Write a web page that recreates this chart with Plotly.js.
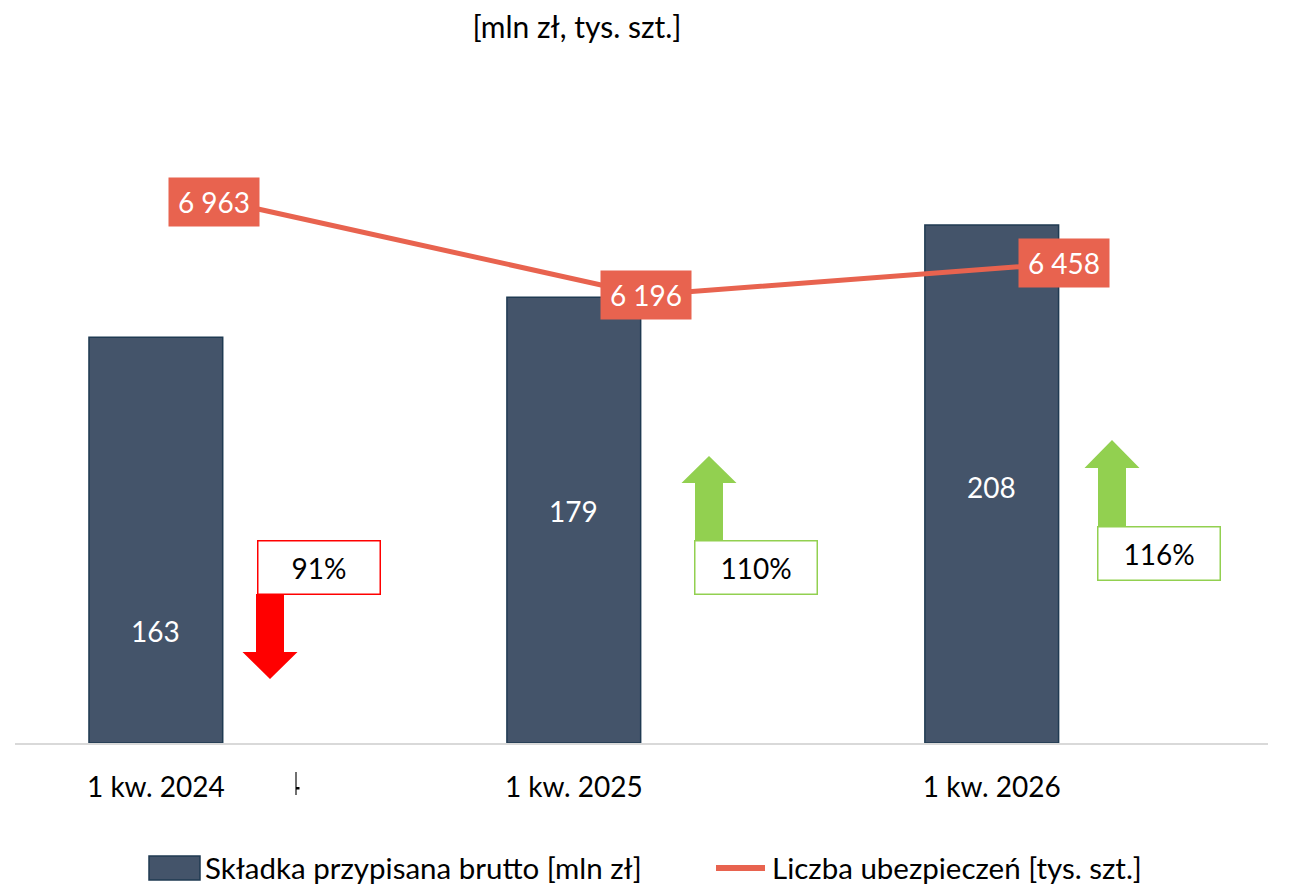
<!DOCTYPE html>
<html><head><meta charset="utf-8">
<script src="https://cdn.plot.ly/plotly-3.0.1.min.js"></script>
<style>html,body{margin:0;padding:0;background:#fff}#chart{width:1304px;height:886px}</style>
</head><body><div id="chart"></div>
<script>
// ---- data ----
const categories = ['1 kw. 2024', '1 kw. 2025', '1 kw. 2026'];
const premium = [163, 179, 208];             // Składka przypisana brutto [mln zł]
const policies = [6963, 6196, 6458];         // Liczba ubezpieczeń [tys. szt.]
const dynamics = ['91%', '110%', '116%'];
const dynamicsUp = [false, true, true];
const seriesNames = ['Składka przypisana brutto [mln zł]', 'Liczba ubezpieczeń [tys. szt.]'];
const unitTitle = '[mln zł, tys. szt.]';

// ---- styles ----
const FONT = 'Lato, "Open Sans", sans-serif';
const BAR = '#44546A', BAR_EDGE = '#1F3A52', LINE = '#E8634F';
const RED = '#FF0000', GREEN = '#92D050';
const W = 1304, H = 886, ML = 15, MR = 36, MT = 80, MB = 143;
const PW = W - ML - MR, PH = H - MT - MB;
const px = x => (x - ML) / PW;
const py = y => (H - MB - y) / PH;
const fmt = n => String(n).replace(/\B(?=(\d{3})+(?!\d))/g, ' ');

const traces = [
  { type: 'bar', x: categories, y: premium, name: seriesNames[0],
    marker: { color: BAR, line: { color: BAR_EDGE, width: 1.5 } },
    hoverinfo: 'x+y', showlegend: false },
  { type: 'scatter', mode: 'lines', x: categories, y: policies, name: seriesNames[1],
    xaxis: 'x2', yaxis: 'y2', line: { color: LINE, width: 5 }, showlegend: false }
];

const annotations = [];
const shapes = [];
// bar value labels
const barLabelShift = [-91, 9, -3];
premium.forEach((v, i) => annotations.push({
  xref: 'x', yref: 'y', x: categories[i], y: v / 2, yshift: barLabelShift[i],
  xanchor: 'center', yanchor: 'middle',
  text: String(v), showarrow: false, font: { family: FONT, size: 28, color: '#FFFFFF' }
}));
// line value labels
const lineLabelShift = [-14, 0, 0];
policies.forEach((v, i) => annotations.push({
  xref: 'x2', yref: 'y2', x: categories[i], y: v, xshift: lineLabelShift[i],
  xanchor: 'center', yanchor: 'middle',
  text: fmt(v), showarrow: false, bgcolor: LINE, width: 88, height: 46,
  font: { family: FONT, size: 28, color: '#FFFFFF' }
}));
// dynamics boxes + arrows
const boxCenters = [[319, 567.5], [756, 567.5], [1159, 553]];
const arrowGeo = [ // cx, tip, headBase, end
  [270, 679, 652, 594], [709, 456, 483, 541], [1112, 440, 468, 527]
];
dynamics.forEach((t, i) => {
  const c = dynamicsUp[i] ? GREEN : RED;
  const [cx, tip, hb, end] = arrowGeo[i];
  const hh = 27.5, sh = 14;
  const pts = [[cx, tip], [cx + hh, hb], [cx + sh, hb], [cx + sh, end], [cx - sh, end], [cx - sh, hb], [cx - hh, hb]];
  shapes.push({
    type: 'path', xref: 'paper', yref: 'paper', fillcolor: c, line: { width: 0 },
    path: 'M' + pts.map(p => px(p[0]) + ',' + py(p[1])).join(' L') + ' Z'
  });
  annotations.push({
    xref: 'paper', yref: 'paper', x: px(boxCenters[i][0]), y: py(boxCenters[i][1]),
    xanchor: 'center', yanchor: 'middle',
    text: t, showarrow: false, bgcolor: '#FFFFFF', bordercolor: c, borderwidth: 1.5,
    width: 119, height: 50, font: { family: FONT, size: 28, color: '#000000' }
  });
});
// stray tick artifact
shapes.push({ type: 'line', xref: 'paper', yref: 'paper', x0: px(296), x1: px(296), y0: py(772), y1: py(795),
  line: { color: '#404040', width: 1.5 } });
shapes.push({ type: 'rect', xref: 'paper', yref: 'paper', x0: px(296), x1: px(299.5), y0: py(789.5), y1: py(787),
  fillcolor: '#000', line: { width: 0 } });
// custom legend
shapes.push({ type: 'rect', xref: 'paper', yref: 'paper', x0: px(149), x1: px(200), y0: py(880), y1: py(856),
  fillcolor: BAR, line: { color: BAR_EDGE, width: 1.5 } });
shapes.push({ type: 'line', xref: 'paper', yref: 'paper', x0: px(716), x1: px(765), y0: py(868), y1: py(868),
  line: { color: LINE, width: 6 } });
annotations.push({ xref: 'paper', yref: 'paper', x: px(203), y: py(867), xanchor: 'left', yanchor: 'middle',
  text: seriesNames[0], showarrow: false, font: { family: FONT, size: 29.5, color: '#000' } });
annotations.push({ xref: 'paper', yref: 'paper', x: px(770), y: py(867), xanchor: 'left', yanchor: 'middle',
  text: seriesNames[1], showarrow: false, font: { family: FONT, size: 29.5, color: '#000' } });

const layout = {
  width: W, height: H,
  margin: { l: ML, r: MR, t: MT, b: MB, pad: 0 },
  paper_bgcolor: '#FFFFFF', plot_bgcolor: '#FFFFFF',
  font: { family: FONT, size: 28, color: '#000' },
  title: { text: unitTitle, x: 577 / W, xanchor: 'center', y: 1 - 27 / H, yanchor: 'middle',
    font: { family: FONT, size: 30, color: '#000' } },
  bargap: 0.68,
  showlegend: false,
  xaxis: { type: 'category', range: [-0.337, 2.661], showline: true, linecolor: '#D9D9D9', linewidth: 2,
    ticks: '', showgrid: false, zeroline: false, tickfont: { family: FONT, size: 28, color: '#000' }, ticklabelstandoff: 18 },
  xaxis2: { type: 'category', overlaying: 'x', anchor: 'y2', range: [-0.511, 2.489], visible: false },
  yaxis: { range: [0, PH / 2.49], visible: false, showgrid: false, zeroline: false },
  yaxis2: { range: [2481, 7978], overlaying: 'y', side: 'right', anchor: 'x2', visible: false, showgrid: false, zeroline: false },
  annotations, shapes
};
Plotly.newPlot('chart', traces, layout, { displayModeBar: false, staticPlot: true });
</script></body></html>
